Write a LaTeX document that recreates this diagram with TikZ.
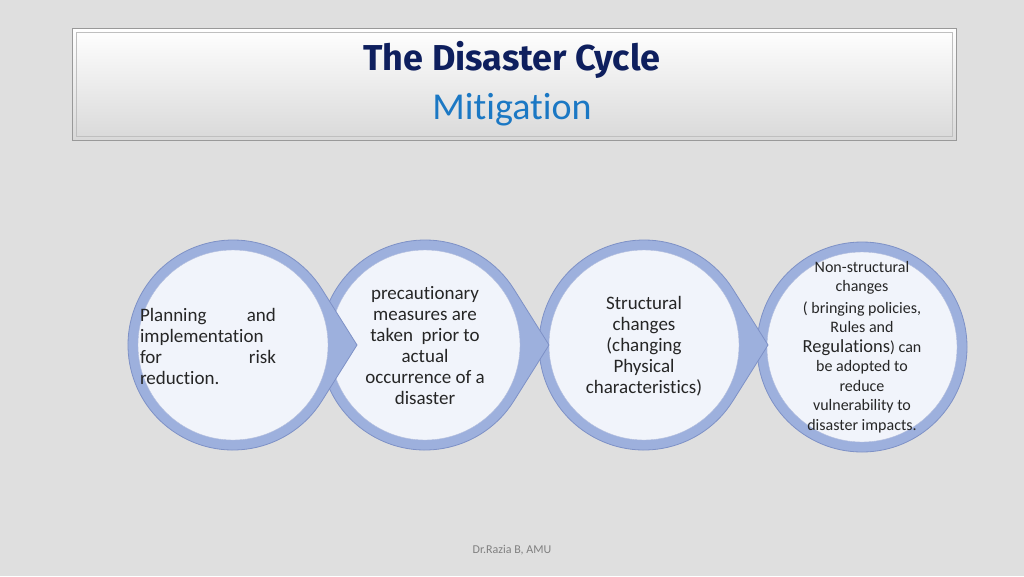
\documentclass[tikz,border=0pt]{standalone}
\usepackage{fontspec}
\setmainfont{Carlito}[Ligatures={NoCommon}]
\newfontfamily\titlefont{Fira Sans}
\newfontfamily\mitfont{Carlito}[Ligatures={NoCommon}]
\begin{document}
\begin{tikzpicture}[x=1pt,y=-1pt,
  ring/.style={fill=ringblue,draw=ringedge,line width=0.8pt},
  disc/.style={circle,fill=discwhite,draw=ringedge!60,line width=0.4pt,minimum size=190pt,inner sep=0pt},
  txt/.style={font=\fontsize{19}{21}\selectfont,align=center,text=black!85}]
\definecolor{ringblue}{HTML}{9DB0DD}
\definecolor{ringedge}{HTML}{7E91C6}
\definecolor{discwhite}{HTML}{F1F4FB}
\definecolor{navy}{HTML}{0E1F5E}
\definecolor{mblue}{HTML}{1B78C4}
\fill[gray!25!white] (0,0) rectangle (1024,576);
\useasboundingbox (0,0) rectangle (1024,576);
\draw[black!40,line width=1pt,top color=white,bottom color=black!15] (72,28) rectangle (956,140);
\draw[black!25] (76,32) rectangle (952,136);
\node[font=\titlefont\bfseries\fontsize{36}{40}\selectfont,text=navy] (title) at (512,60) {The Disaster Cycle};
\node[font=\mitfont\fontsize{38}{40}\selectfont,text=mblue] (sub) at (512,110) {Mitigation};
% last circle: plain
\draw[ring] (862,347) circle[radius=105];
\node[disc] (d) at (862,347) {};
% teardrops right to left
\foreach \cx/\n in {644/c,425/b,233/a}{
  \draw[ring] (\cx,345) ++(32:105) arc[start angle=32,end angle=328,radius=105] -- (\cx+124,345) -- cycle;
  \node[disc] (\n) at (\cx,345) {};
}
\node[txt,align=left,text width=136pt,inner sep=0pt] (ta) at (208,346) {Planning\hfill and\\implementation\\for\hfill risk\\reduction.};
\node[txt] (tb) at (425,346) {precautionary\\measures are\\taken\ \ prior to\\actual\\occurrence of a\\disaster};
\node[txt] (tc) at (644,346) {Structural\\changes\\(changing\\Physical\\characteristics)};
\node[align=center,text=black!85,font=\fontsize{16}{19.5}\selectfont] (td) at (862,347) {Non-structural\\changes\\[2pt]( bringing policies,\\Rules and\\{\fontsize{18.5}{19}\selectfont Regulations}) can\\be adopted to\\reduce\\vulnerability to\\disaster impacts.};
\node[font=\fontsize{12}{13}\selectfont,text=black!50] (foot) at (512,550) {Dr.Razia B, AMU};
\end{tikzpicture}
\end{document}
